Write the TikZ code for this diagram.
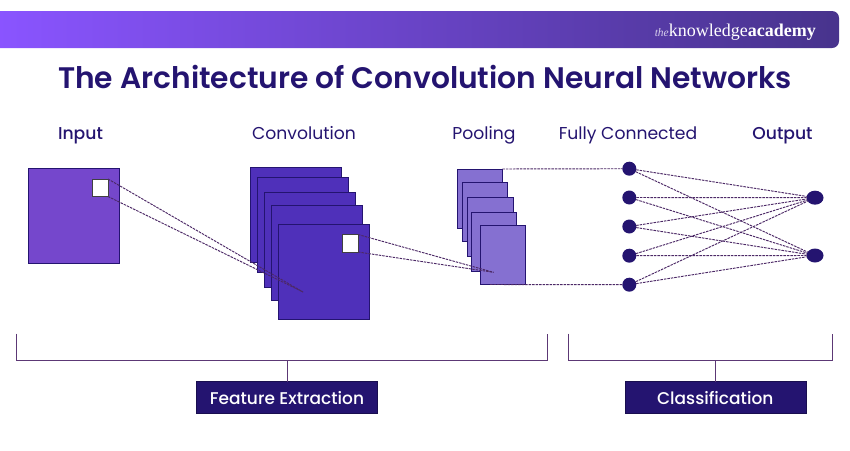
\documentclass[tikz,border=0pt]{standalone}
\usepackage{fontspec}
\setmainfont{Poppins}[BoldFont={Poppins SemiBold}]
\newfontfamily\mediumfont{Poppins Medium}
\newfontfamily\logofont{Liberation Serif}
\definecolor{mnavy}{rgb}{0.14, 0.08, 0.44}
\definecolor{mline}{rgb}{0.3, 0.16, 0.4}
\definecolor{mbracket}{rgb}{0.36, 0.22, 0.46}
\definecolor{minput}{rgb}{0.46, 0.28, 0.8}
\definecolor{mconv}{rgb}{0.31, 0.19, 0.73}
\definecolor{mpool}{rgb}{0.52, 0.44, 0.82}
\definecolor{mleft}{rgb}{0.54, 0.33, 1}
\definecolor{mmid}{rgb}{0.36, 0.23, 0.7}
\definecolor{mright}{rgb}{0.28, 0.2, 0.55}
\tikzset{sheet/.style = {draw=mnavy, line width=1, inner sep=0, outer sep=0, anchor=north west}}
\tikzset{window/.style = {draw=black!75, line width=0.9, fill=white, inner sep=0, outer sep=0, anchor=north west, minimum width=16, minimum height=17.5}}
\tikzset{dots/.style = {draw=mline, line width=0.95, dash pattern=on 2.5 off 1}}
\tikzset{neuron/.style = {fill=mnavy, ellipse, inner sep=0, outer sep=0, minimum width=14, minimum height=14}}
\tikzset{heading/.style = {text=mnavy, font=\fontsize{17.2}{18}\selectfont, anchor=base}}
\tikzset{tag/.style = {fill=mnavy, draw=mnavy!70!black, text=white, inner sep=0, outer sep=0, minimum width=181, minimum height=32, font=\fontsize{17}{18}\selectfont\mediumfont}}
\tikzset{brace/.style = {draw=mbracket, line width=1}}
\usetikzlibrary{shapes.geometric}
\begin{document}
\begin{tikzpicture}[x=1pt, y=-1pt]
    \useasboundingbox (0, 0) rectangle (850, 450);

    \shade [left color=mleft, middle color=mmid, right color=mright] (0, 11) [rounded corners=7] -- (839, 11) -- (839, 48) [sharp corners] -- (0, 48) -- cycle;
    \node (logo) [anchor=base east, text=white, inner sep=0] at (816, 36) {\logofont\fontsize{18}{19}\selectfont{\fontsize{11.5}{12}\selectfont\itshape\color{white!75!mmid} the}knowledge\textbf{academy}};

    \node (title) [anchor=base, text=mnavy, inner sep=0] at (425, 88) {\fontsize{29.7}{32}\selectfont\bfseries The Architecture of Convolution Neural Networks};

    \node (h1) [heading] at (80.5, 139.3) {\mediumfont Input};
    \node (h2) [heading] at (304, 139.3) {Convolution};
    \node (h3) [heading] at (484, 139.3) {Pooling};
    \node (h4) [heading] at (628, 139.3) {Fully Connected};
    \node (h5) [heading] at (782.5, 139.3) {\mediumfont Output};

    \node (input) [sheet, fill=minput, minimum width=91, minimum height=95.5] at (28.5, 168) {};
    \node (inwin) [window] at (92, 179) {};

    \foreach \name/\x/\y in {c1/250/167, c2/257/177, c3/264.5/192, c4/271.5/205, c5/278.5/224}
      \node (\name) [sheet, fill=mconv, minimum width=91, minimum height=95.5] at (\x, \y) {};
    \node (cwin) [window] at (342, 234.5) {};

    \foreach \name/\x/\y in {p1/457/169, p2/462.3/182.5, p3/467.7/197.5, p4/471.3/212.5, p5/480.3/225}
      \node (\name) [sheet, fill=mpool, minimum width=45.4, minimum height=59.3] at (\x, \y) {};

    \coordinate (inend) at (303, 292);
    \coordinate (cend) at (493.5, 272.3);
    \coordinate (pbottom) at (490, 284.5);

    \draw [dots] (inwin.north east) -- (inend);
    \draw [dots] (inwin.south east) -- (inend);
    \draw [dots] (cwin.north east) -- (cend);
    \draw [dots] (cwin.south east) -- (cend);

    \foreach \i/\y in {1/168.7, 2/197.5, 3/226.5, 4/255.7, 5/284.7}
      \node (f\i) [neuron] at (629.3, \y) {};
    \node (o1) [neuron, minimum width=17] at (815, 197.7) {};
    \node (o2) [neuron, minimum width=17] at (815, 255.5) {};

    \draw [dots] (p1.north east) -- (f1);
    \draw [dots] (pbottom) -- (f5);
    \foreach \i in {1,...,5}
      \foreach \j in {1,2}
        \draw [dots] (f\i) -- (o\j);

    \node (fe) [tag] at (287, 397.6) {Feature Extraction};
    \node (cl) [tag] at (715.2, 397.6) {Classification};

    \coordinate (fa) at (16, 333.5);
    \coordinate (fb) at (547.6, 333.5);
    \coordinate (ca) at (568.7, 333.5);
    \coordinate (cb) at (832.7, 333.5);
    \draw [brace] (fa) -- ++(0, 26.5) -| (fb);
    \draw [brace] (ca) -- ++(0, 26.5) -| (cb);
    \draw [brace] (fe.north) -- ++(0, -21.6);
    \draw [brace] (cl.north) -- ++(0, -21.6);
\end{tikzpicture}
\end{document}
